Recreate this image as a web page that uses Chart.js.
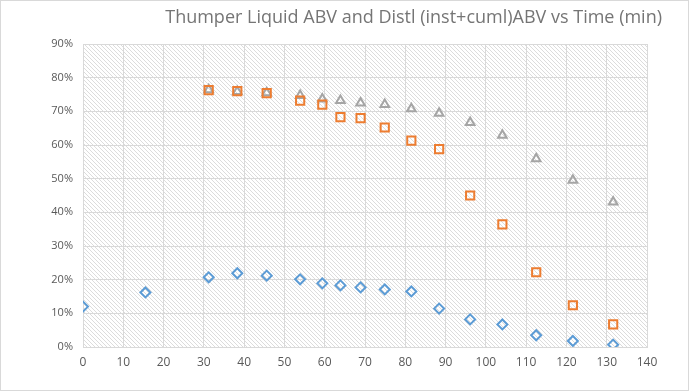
<!DOCTYPE html>
<html>
<head>
<meta charset="utf-8">
<script src="https://cdn.jsdelivr.net/npm/chart.js@4.4.1/dist/chart.umd.min.js"></script>
<style>
  html, body { margin: 0; padding: 0; background: #fff; }
  #wrap { width: 690px; height: 392px; }
</style>
</head>
<body>
<div id="wrap"><canvas id="chart" width="690" height="392"></canvas></div>
<script>
// time in minutes
const times = [0, 15.5, 31.2, 38.3, 45.6, 53.9, 59.4, 63.9, 68.9, 74.9, 81.5, 88.4, 96.1, 104.1, 112.5, 121.6, 131.6];
// ABV as fractions
const thumperLiquid = [0.12, 0.162, 0.207, 0.219, 0.212, 0.201, 0.189, 0.183, 0.177, 0.171, 0.165, 0.114, 0.082, 0.067, 0.035, 0.018, 0.007];
const distlInst = [null, null, 0.763, 0.760, 0.754, 0.732, 0.720, 0.683, 0.680, 0.652, 0.613, 0.588, 0.450, 0.364, 0.222, 0.124, 0.067];
const distlCuml = [null, null, 0.764, 0.759, 0.755, 0.747, 0.737, 0.732, 0.725, 0.720, 0.708, 0.694, 0.667, 0.629, 0.559, 0.495, 0.431];
const xTicks = [0, 10, 20, 30, 40, 50, 60, 70, 80, 90, 100, 110, 120, 130, 140];
const titleText = 'Thumper Liquid ABV and Distl (inst+cuml)ABV vs Time (min)';

function toPoints(ys) {
    return times.map((t, i) => ys[i] == null ? null : { x: t, y: ys[i] }).filter(p => p);
}

function makeHatch() {
    const c = document.createElement('canvas');
    c.width = 4; c.height = 4;
    const g = c.getContext('2d');
    g.fillStyle = '#ffffff';
    g.fillRect(0, 0, 4, 4);
    g.fillStyle = '#dcdcdc';
    for (let i = 0; i < 4; i++) g.fillRect(i, i, 1, 1);
    return g.createPattern(c, 'repeat');
}

const frame = {
    id: 'frame',
    beforeDraw(chart) {
        const { ctx, chartArea: a } = chart;
        ctx.save();
        ctx.fillStyle = '#fff';
        ctx.fillRect(0, 0, chart.width, chart.height);
        ctx.fillStyle = makeHatch();
        ctx.fillRect(a.left, a.top, a.right - a.left, a.bottom - a.top);
        ctx.restore();
    },
    afterDraw(chart) {
        const ctx = chart.ctx;
        ctx.save();
        ctx.strokeStyle = '#d9d9d9';
        ctx.lineWidth = 1;
        ctx.strokeRect(0.5, 0.5, chart.width - 2, chart.height - 2);
        ctx.fillStyle = '#757575';
        ctx.font = '18px "Open Sans", sans-serif';
        ctx.textAlign = 'right';
        ctx.textBaseline = 'middle';
        ctx.fillText(titleText, 662, 18);
        ctx.restore();
    }
};

new Chart(document.getElementById('chart'), {
    type: 'scatter',
    data: {
        datasets: [
            {
                label: 'Thumper Liquid ABV',
                data: toPoints(thumperLiquid),
                pointStyle: 'rectRot',
                pointRadius: 5,
                pointBorderWidth: 2,
                borderColor: '#5b9bd5',
                backgroundColor: 'rgba(0,0,0,0)'
            },
            {
                label: 'Distl inst ABV',
                data: toPoints(distlInst),
                pointStyle: 'rect',
                pointRadius: 5.8,
                pointBorderWidth: 2,
                borderColor: '#ed7d31',
                backgroundColor: 'rgba(0,0,0,0)'
            },
            {
                label: 'Distl cuml ABV',
                data: toPoints(distlCuml),
                pointStyle: 'triangle',
                pointRadius: 5,
                pointBorderWidth: 2,
                borderColor: '#a5a5a5',
                backgroundColor: 'rgba(0,0,0,0)'
            }
        ]
    },
    options: {
        responsive: false,
        animation: false,
        layout: { padding: { left: 0, right: 43, top: 44, bottom: 0 } },
        plugins: {
            legend: { display: false },
            title: { display: false },
            tooltip: { enabled: false }
        },
        scales: {
            x: {
                type: 'linear',
                min: 0, max: 140,
                afterBuildTicks: s => { s.ticks = xTicks.map(v => ({ value: v })); },
                afterFit: s => { s.height = 45; s.paddingLeft = 0; s.paddingRight = 0; },
                grid: { color: '#d9d9d9', drawTicks: false },
                border: { color: '#d9d9d9' },
                ticks: { color: '#595959', font: { size: 12, family: '"Open Sans", sans-serif' }, padding: 8 }
            },
            y: {
                min: 0, max: 0.9,
                afterFit: s => { s.width = 83; s.paddingTop = 0; s.paddingBottom = 0; },
                grid: { color: '#d9d9d9', drawTicks: false },
                border: { color: '#d9d9d9' },
                ticks: {
                    stepSize: 0.1,
                    color: '#595959',
                    font: { size: 11, family: '"Open Sans", sans-serif' },
                    padding: 10,
                    callback: v => Math.round(v * 100) + '%'
                }
            }
        }
    },
    plugins: [frame]
});
</script>
</body>
</html>
